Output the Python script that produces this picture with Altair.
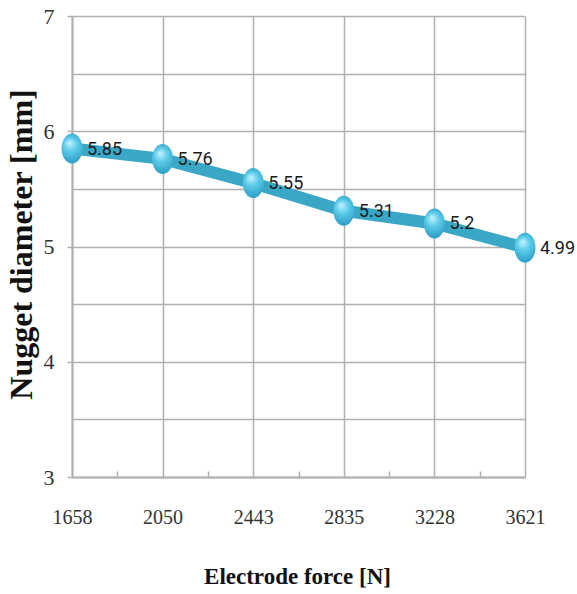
import altair as alt
import pandas as pd

# Electrode force levels (N) and the measured nugget diameters (mm)
forces = ["1658", "2050", "2443", "2835", "3228", "3621"]
diameters = [5.85, 5.76, 5.55, 5.31, 5.2, 4.99]
labels = ["5.85", "5.76", "5.55", "5.31", "5.2", "4.99"]

df = pd.DataFrame({
    "idx": list(range(len(forces))),
    "force": forces,
    "diameter": diameters,
    "label": labels,
})

n = len(forces)
x_vals = [i * 0.5 for i in range(2 * (n - 1) + 1)]
y_vals = [3 + i * 0.5 for i in range(9)]
force_js = "[" + ",".join("'%s'" % f for f in forces) + "]"

GRID = "#b0b0b0"
SERIF = "Liberation Serif"

x_enc = alt.X(
    "idx:Q",
    scale=alt.Scale(domain=[0, n - 1], nice=False, zero=False),
    axis=alt.Axis(
        values=x_vals,
        labelExpr="datum.value % 1 === 0 ? " + force_js + "[datum.value] : ''",
        title="Electrode force [N]",
        titleFont=SERIF,
        titleFontSize=23,
        titleFontWeight="bold",
        titleColor="#111",
        titleX=225,
        titleY=99,
        titleBaseline="middle",
        labelFont=SERIF,
        labelFontSize=20,
        labelColor="#333",
        labelPadding=36,
        labelFlush=False,
        grid=True,
        gridColor=GRID,
        gridWidth=1.5,
        gridOpacity={"condition": {"test": "datum.value % 1 === 0", "value": 1}, "value": 0},
        tickColor=GRID,
        tickWidth=1.5,
        tickSize={"expr": "-6"},
        tickOpacity={"condition": {"test": "datum.value % 1 === 0", "value": 0}, "value": 1},
        domainColor=GRID,
        domainWidth=2,
    ),
)

y_enc = alt.Y(
    "diameter:Q",
    scale=alt.Scale(domain=[3, 7], nice=False, zero=False),
    axis=alt.Axis(
        values=y_vals,
        labelExpr="datum.value % 1 === 0 ? datum.value : ''",
        title="Nugget diameter [mm]",
        titleFont=SERIF,
        titleFontSize=32,
        titleFontWeight="bold",
        titleColor="#111",
        titleX=-51,
        titleY=228,
        titleBaseline="middle",
        titleAlign="center",
        labelFont=SERIF,
        labelFontSize=22,
        labelColor="#333",
        labelPadding=13,
        labelFlush=False,
        grid=True,
        gridColor=GRID,
        gridWidth=1.5,
        tickColor=GRID,
        tickWidth=1.5,
        tickSize=5,
        tickOpacity={"condition": {"test": "datum.value % 1 === 0", "value": 1}, "value": 0},
        domainColor=GRID,
        domainWidth=2,
    ),
)

base = alt.Chart(df).encode(x=x_enc, y=y_enc)

line = base.mark_line(color="#3ba7c6", strokeWidth=12, strokeCap="butt")

ellipse = "M0,-1A0.7,1,0,1,1,0,1A0.7,1,0,1,1,0,-1Z"
sphere_fill = {
    "gradient": "radial",
    "x1": 0.42, "y1": 0.3, "r1": 0.0,
    "x2": 0.5, "y2": 0.5, "r2": 0.65,
    "stops": [
        {"offset": 0.0, "color": "#c6f3ff"},
        {"offset": 0.35, "color": "#5ccbe9"},
        {"offset": 0.8, "color": "#2d9fc6"},
        {"offset": 1.0, "color": "#1f86ab"},
    ],
}
points = base.mark_point(
    shape=ellipse, size=900, filled=True, fill=sphere_fill, opacity=1, strokeWidth=0
)

text = base.mark_text(
    align="left", baseline="middle", dx=15, dy=1,
    font="Roboto",
    fontSize=18, color="#1a1a1a",
).encode(text="label:N")

chart = alt.layer(line, points, text).properties(
    width=453,
    height=461,
    autosize=alt.AutoSizeParams(type="none"),
    padding={"left": 72, "top": 16, "right": 52, "bottom": 117},
    background="white",
).configure_view(stroke=None)

chart.save("out.html", embed_options={"renderer": "svg", "actions": False})
